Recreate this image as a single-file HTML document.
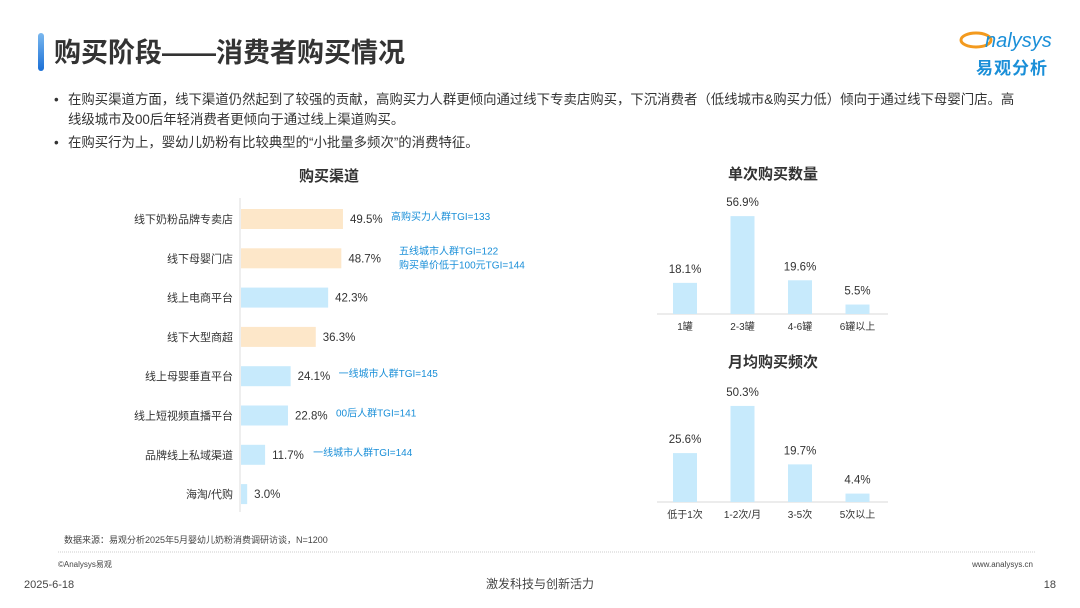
<!DOCTYPE html>
<html><head><meta charset="utf-8">
<style>
body{margin:0;width:1080px;height:608px;background:#fff;overflow:hidden;font-family:"Liberation Sans","Noto Sans CJK SC",sans-serif;}
svg{display:block}
</style></head>
<body>
<svg id="s" width="1080" height="608" xmlns="http://www.w3.org/2000/svg" font-family="Liberation Sans, Noto Sans CJK SC, sans-serif">
<defs><linearGradient id="g" x1="0" y1="0" x2="0" y2="1"><stop offset="0" stop-color="#7ab8ef"/><stop offset="1" stop-color="#1a6fd6"/></linearGradient></defs>
<rect x="38" y="33" width="6" height="38" rx="3" fill="url(#g)"/>
<text x="54" y="62" font-size="27" font-weight="bold" fill="#333">购买阶段——消费者购买情况</text>
<g>
<ellipse cx="976" cy="40" rx="15" ry="7" fill="none" stroke="#f39a1e" stroke-width="3"/>
<text x="985" y="47" font-size="20" fill="#1a8fd8" font-style="italic">nalysys</text>
<text x="976" y="74" font-size="17" font-weight="bold" fill="#1a8fd8" letter-spacing="1">易观分析</text>
</g>
<g font-size="13.4" fill="#333">
<text x="54" y="104">•</text><text x="68" y="104">在购买渠道方面，线下渠道仍然起到了较强的贡献，高购买力人群更倾向通过线下专卖店购买，下沉消费者（低线城市&amp;购买力低）倾向于通过线下母婴门店。高</text>
<text x="68" y="124">线级城市及00后年轻消费者更倾向于通过线上渠道购买。</text>
<text x="54" y="147">•</text><text x="68" y="147">在购买行为上，婴幼儿奶粉有比较典型的“小批量多频次”的消费特征。</text>
</g>
<text x="329" y="181" font-size="15" font-weight="bold" fill="#333" text-anchor="middle">购买渠道</text>
<line x1="240" y1="198" x2="240" y2="512" stroke="#ddd"/>
<g id="left"></g>
<text x="773" y="179" font-size="15" font-weight="bold" fill="#333" text-anchor="middle">单次购买数量</text>
<text x="773" y="367" font-size="15" font-weight="bold" fill="#333" text-anchor="middle">月均购买频次</text>
<g id="qty"></g><g id="freq"></g>
<text x="64" y="543" font-size="9" fill="#444">数据来源：易观分析2025年5月婴幼儿奶粉消费调研访谈，N=1200</text>
<line x1="58" y1="552" x2="1035" y2="552" stroke="#ccc" stroke-dasharray="1,1"/>
<text x="58" y="567" font-size="8" fill="#444">©Analysys易观</text>
<text x="1033" y="567" font-size="8" fill="#444" text-anchor="end">www.analysys.cn</text>
<text x="24" y="588" font-size="11" fill="#444">2025-6-18</text>
<text x="540" y="588" font-size="12" fill="#444" text-anchor="middle">激发科技与创新活力</text>
<text x="1056" y="588" font-size="11" fill="#444" text-anchor="end">18</text>
</svg>
<script>
const channels=["线下奶粉品牌专卖店","线下母婴门店","线上电商平台","线下大型商超","线上母婴垂直平台","线上短视频直播平台","品牌线上私域渠道","海淘/代购"];
const channelValues=[49.5,48.7,42.3,36.3,24.1,22.8,11.7,3.0];
const channelOffline=[true,true,false,true,false,false,false,false];
const channelNotes=[["高购买力人群TGI=133"],["五线城市人群TGI=122","购买单价低于100元TGI=144"],[],[],["一线城市人群TGI=145"],["00后人群TGI=141"],["一线城市人群TGI=144"],[]];
const qtyCats=["1罐","2-3罐","4-6罐","6罐以上"];
const qtyValues=[18.1,56.9,19.6,5.5];
const freqCats=["低于1次","1-2次/月","3-5次","5次以上"];
const freqValues=[25.6,50.3,19.7,4.4];
const NS="http://www.w3.org/2000/svg";
function mk(p,t,a,txt){const e=document.createElementNS(NS,t);for(const k in a)e.setAttribute(k,a[k]);if(txt!=null)e.textContent=txt;p.appendChild(e);return e;}
const L=document.getElementById('left');
const xS=v=>241+v*2.06, yS=i=>219+i*39.3;
channels.forEach((c,i)=>{
 const y=yS(i);
 const t=mk(L,'text',{x:233,y:y+4,'font-size':11,fill:'#333','text-anchor':'end'},c);
 
 
 const r=mk(L,'rect',{x:241,y:y-10,width:xS(channelValues[i])-241,height:20,fill:channelOffline[i]?'#fde7c9':'#c7eafc'});
 
 
 const v=mk(L,'text',{x:xS(channelValues[i])+7,y:y+4,'font-size':11.5,fill:'#333'},channelValues[i].toFixed(1)+'%');
 
 
 const n=channelNotes[i];
 n.forEach((s,j)=>{
  const nx=n.length>1?399:xS(channelValues[i])+48;
  const ny=n.length>1?y-4+j*14:y+1;
  const a=mk(L,'text',{x:nx,y:ny,'font-size':10,fill:'#1a8fd8'},s);
  
  
 });
});
function col(id,cats,vals,base,scale,name){
 const g=document.getElementById(id);
 const ln=mk(g,'line',{x1:657,y1:base,x2:888,y2:base,stroke:'#e6e6e6','stroke-width':1.5});
 
 
 cats.forEach((c,i)=>{
  const cx=685+i*57.5,h=vals[i]*scale;
  const r=mk(g,'rect',{x:cx-12,y:base-h,width:24,height:h,fill:'#c7eafc'});
  
  
  const v=mk(g,'text',{x:cx,y:base-h-10,'font-size':11.5,fill:'#333','text-anchor':'middle'},vals[i].toFixed(1)+'%');
  
  
  const t=mk(g,'text',{x:cx,y:base+16,'font-size':10,fill:'#333','text-anchor':'middle'},c);
  
  
 });
}
col('qty',qtyCats,qtyValues,314,1.72,'quantity');
col('freq',freqCats,freqValues,502,1.91,'frequency');
</script>
</body></html>
